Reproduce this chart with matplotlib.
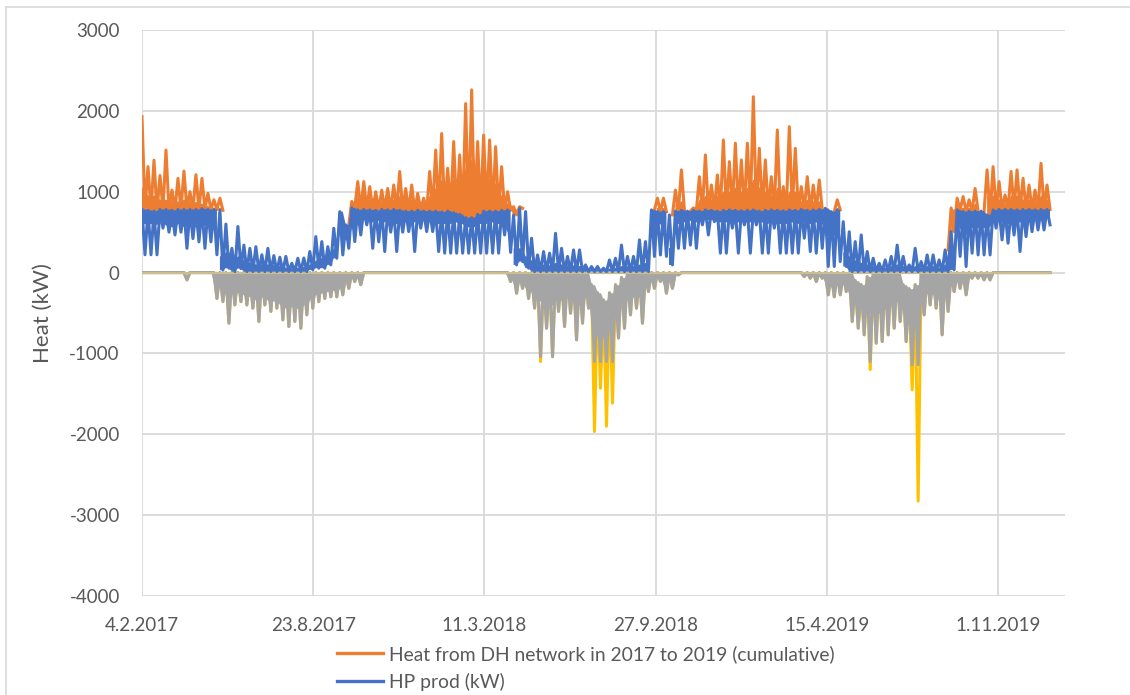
"""
plot.py
=======
Heat from the DH network vs heat pump production, weekly envelope
(peak / trough / dense core level per week) read off the Excel chart,
Feb 2017 - Dec 2019.
"""

import matplotlib
matplotlib.use("Agg")
import matplotlib.pyplot as plt
import matplotlib.dates as mdates
from matplotlib.lines import Line2D
import numpy as np
import pandas as pd

plt.rcParams["font.family"] = ["Lato", "DejaVu Sans"]
plt.rcParams["axes.unicode_minus"] = False

# ---- data (kW), one entry per week starting 4.2.2017 -----------------------
START = "2017-02-04"
N_WEEKS = 152

# HP prod: weekly peak, weekly trough, and the far edge of the dense band
# (lower edge in heating season, upper edge in summer)
hp_hi = [
    780, 770, 760, 780, 780, 770, 780, 780, 780, 780,
    790, 780, 780, 770, 600, 300, 570, 340, 300, 320,
    220, 300, 210, 190, 200, 115, 177, 180, 260, 445,
    383, 320, 548, 754, 590, 800, 775, 780, 775, 770,
    780, 775, 780, 770, 760, 760, 770, 760, 760, 760,
    750, 760, 740, 720, 680, 680, 720, 760, 760, 760,
    770, 775, 713, 795, 754, 425, 218, 260, 240, 486,
    300, 200, 280, 280, 95, 75, 75, 54, 156, 177,
    340, 200, 200, 404, 383, 775, 754, 754, 713, 760,
    770, 760, 770, 760, 775, 770, 760, 770, 775, 770,
    765, 770, 775, 760, 770, 775, 770, 765, 775, 770,
    780, 770, 775, 780, 795, 754, 775, 630, 505, 383,
    465, 260, 177, 115, 156, 200, 340, 200, 95, 300,
    136, 218, 218, 156, 280, 506, 775, 754, 760, 760,
    760, 713, 775, 780, 780, 780, 775, 780, 780, 775,
    780, 780,
]
hp_lo = [
    220, 220, 220, 550, 500, 465, 500, 300, 420, 380,
    300, 380, 220, 30, 54, 12, 50, 12, 12, 12,
    12, 12, 12, 12, 12, 12, 12, 12, 33, 54,
    54, 95, 177, 218, 300, 383, 465, 590, 300, 380,
    260, 500, 260, 500, 507, 260, 550, 507, 507, 260,
    240, 240, 240, 240, 240, 240, 240, 240, 240, 240,
    465, 250, 95, 136, 54, 12, 12, 12, 12, 12,
    12, 12, 12, 12, 12, 12, 12, 12, 12, 12,
    12, 12, 12, 12, 12, 200, 218, 200, 95, 300,
    300, 340, 300, 590, 465, 630, 240, 240, 550, 240,
    590, 240, 590, 240, 240, 550, 240, 240, 240, 240,
    425, 260, 240, 300, 75, 75, 136, 75, 12, 12,
    12, 12, 12, 12, 12, 12, 12, 12, 12, 12,
    12, 12, 12, 12, 12, 33, 200, 75, 240, 218,
    218, 218, 550, 404, 363, 465, 260, 445, 506, 527,
    527, 590,
]
hp_core = [
    600, 600, 590, 620, 580, 560, 600, 560, 570, 560,
    580, 590, 520, 200, 250, 150, 200, 150, 120, 100,
    100, 100, 90, 80, 60, 50, 60, 70, 100, 150,
    180, 200, 300, 450, 400, 550, 600, 650, 620, 640,
    620, 650, 600, 620, 640, 620, 640, 640, 640, 600,
    600, 600, 620, 600, 560, 560, 600, 600, 620, 600,
    620, 500, 300, 300, 200, 150, 100, 100, 90, 120,
    100, 90, 90, 80, 50, 40, 40, 30, 50, 60,
    80, 80, 80, 100, 120, 450, 600, 450, 300, 600,
    620, 640, 620, 640, 650, 650, 620, 620, 640, 620,
    640, 620, 640, 620, 600, 640, 600, 600, 620, 600,
    620, 600, 620, 600, 450, 450, 500, 250, 200, 150,
    120, 100, 80, 60, 60, 80, 100, 80, 50, 80,
    60, 80, 80, 60, 100, 300, 550, 450, 550, 550,
    550, 560, 650, 620, 600, 620, 620, 620, 640, 640,
    660, 680,
]

# Heat from DH network (cumulative, i.e. on top of HP): weekly peak and
# the top of its dense band.  None = nothing above the HP curve that week.
dh_hi = [
    1930, 1310, 1390, 1200, 1515, 1020, 1165, 1255, 1000, 1210,
    1165, 980, 900, 920, None, None, None, None, None, None,
    None, None, None, None, None, None, None, None, None, None,
    None, None, None, None, None, 880, 1125, 1125, 1063, 1000,
    1020, 1040, 1083, 1250, 1040, 1083, 980, 920, 1250, 1515,
    1720, 1290, 1620, 1455, 2090, 2260, 1620, 1700, 1640, 1557,
    1310, 1000, 815, 815, None, None, None, None, None, None,
    None, None, None, None, None, None, None, None, None, None,
    None, None, None, None, None, None, 920, 920, None, 1020,
    1270, None, 800, 1186, 1455, 1083, 1207, 1640, 1372, 1600,
    1393, 1600, 2175, 1537, 1393, 1186, 1763, 1063, 1805, 1537,
    1063, 1186, 1083, 1145, None, None, 900, None, None, None,
    None, None, None, None, None, None, None, None, None, None,
    None, None, None, None, None, 800, 920, 940, 900, 1040,
    None, 1270, 1310, 1125, 960, 1250, 1270, 1165, 1083, 1020,
    1351, 1083,
]
dh_core = [
    1050, 950, 950, 900, 900, 880, 880, 900, 870, 870,
    850, 820, 800, 800, None, None, None, None, None, None,
    None, None, None, None, None, None, None, None, None, None,
    None, None, None, None, None, 800, 950, 950, 900, 880,
    880, 900, 900, 950, 900, 900, 880, 860, 950, 1050,
    1150, 1050, 1150, 1100, 1300, 1400, 1150, 1200, 1150, 1100,
    950, 850, 780, 780, None, None, None, None, None, None,
    None, None, None, None, None, None, None, None, None, None,
    None, None, None, None, None, None, 800, 800, None, 850,
    880, None, 780, 900, 950, 900, 950, 1000, 1000, 1050,
    1000, 1050, 1150, 1050, 1000, 950, 1050, 900, 1000, 1000,
    880, 900, 880, 880, None, None, 800, None, None, None,
    None, None, None, None, None, None, None, None, None, None,
    None, None, None, None, None, 780, 800, 800, 800, 850,
    None, 950, 950, 900, 850, 950, 950, 900, 900, 880,
    950, 900,
]

# negative series (gray): weekly trough and bottom of its dense band
neg_lo = [
    0, 0, 0, 0, 0, 0, 0, -90, 0, 0,
    0, 0, -320, -358, -625, -400, -360, -400, -440, -605,
    -400, -480, -440, -585, -667, -605, -688, -523, -440, -360,
    -320, -300, -300, -275, -195, -110, -150, 0, 0, 0,
    0, 0, 0, 0, 0, 0, 0, 0, 0, 0,
    0, 0, 0, 0, 0, 0, 0, 0, 0, 0,
    0, -110, -255, -195, -320, -440, -1040, -688, -1040, -480,
    -667, -503, -832, -626, -440, -1100, -1100, -1100, -1100, -810,
    -688, -523, -440, -626, -235, -195, -110, -255, -195, -29,
    0, 0, 0, 0, 0, 0, 0, 0, 0, 0,
    0, 0, 0, 0, 0, 0, 0, 0, 0, 0,
    -50, -70, -110, -70, -275, -300, -275, -235, -605, -688,
    -770, -1100, -873, -853, -770, -688, -605, -853, -1140, -1140,
    -523, -400, -440, -770, -480, -235, -195, -275, -70, -70,
    -90, -90, 0, 0, 0, 0, 0, 0, 0, 0,
    0, 0,
]
neg_core = [
    0, 0, 0, 0, 0, 0, 0, 0, 0, 0,
    0, 0, -150, -200, -300, -250, -250, -280, -300, -350,
    -300, -350, -350, -400, -450, -420, -450, -400, -330, -270,
    -250, -230, -220, -200, -120, -60, -80, 0, 0, 0,
    0, 0, 0, 0, 0, 0, 0, 0, 0, 0,
    0, 0, 0, 0, 0, 0, 0, 0, 0, 0,
    0, -50, -150, -120, -200, -250, -350, -350, -400, -300,
    -350, -300, -400, -400, -300, -700, -800, -800, -700, -450,
    -400, -330, -300, -300, -150, -100, -50, -150, -100, 0,
    0, 0, 0, 0, 0, 0, 0, 0, 0, 0,
    0, 0, 0, 0, 0, 0, 0, 0, 0, 0,
    -20, -30, -50, -30, -150, -180, -150, -150, -300, -400,
    -450, -500, -500, -500, -450, -400, -350, -500, -700, -600,
    -350, -250, -280, -350, -250, -120, -100, -120, -30, -30,
    -40, -40, 0, 0, 0, 0, 0, 0, 0, 0,
    0, 0,
]
# weeks where the gray series does not come back up to 0
neg_top_weeks = [75, 76, 77, 78, 79, 80, 119, 120, 121, 127, 128, 129]
neg_top_vals = [-150, -250, -340, -250, -150, -60, -100, -150, -50, -150, -200, -150]

# yellow series: only differs from the gray one in these weeks
ylw_weeks = [66, 75, 76, 77, 78, 121, 128, 129]
ylw_lo = [-1100, -1965, -1430, -1900, -1615, -1200, -1450, -2826]

tick_dates = ["2017-02-04", "2017-08-23", "2018-03-11",
              "2018-09-27", "2019-04-15", "2019-11-01"]
tick_labels = ["4.2.2017", "23.8.2017", "11.3.2018",
               "27.9.2018", "15.4.2019", "1.11.2019"]
LABEL_DH = "Heat from DH network in 2017 to 2019 (cumulative)"
LABEL_HP = "HP prod (kW)"

# ---- colours ---------------------------------------------------------------
C_ORANGE = "#ED7D31"
C_BLUE = "#4472C4"
C_GRAY = "#A5A5A5"
C_YELLOW = "#FFC000"
C_ZERO = "#CBBD92"
C_GRID = "#D9D9D9"
C_TEXT = "#595959"
LW = 2.2


def arr(values):
    return np.array([np.nan if v is None else v for v in values], dtype=float)


def zigzag(first, second):
    """Interleave two weekly lists: `first` at week start, `second` mid-week."""
    weeks = mdates.date2num(pd.date_range(START, periods=N_WEEKS, freq="7D"))
    x = np.column_stack([weeks, weeks + 3.5]).ravel()
    y = np.column_stack([arr(first), arr(second)]).ravel()
    return x, y


def wk(values):
    """Weekly list stretched over both zigzag points of the week."""
    return np.repeat(arr(values), 2)


fig = plt.figure(figsize=(11.30, 6.95), dpi=100)
ax = fig.add_axes([142 / 1130, 1 - 596 / 695, 923 / 1130, 566 / 695])

neg_top = np.zeros(N_WEEKS)
neg_top[neg_top_weeks] = neg_top_vals
ylw = arr(neg_lo)
ylw[ylw_weeks] = ylw_lo

# negative side: yellow behind gray, gray band from 0 down to its core
x, y = zigzag(neg_top, ylw)
ax.plot(x, y, color=C_YELLOW, lw=LW, solid_joinstyle="round", zorder=2)
x, y = zigzag(neg_top, neg_lo)
ax.fill_between(x, wk(neg_core), wk(neg_top), color=C_GRAY, lw=0, zorder=3)
ax.plot(x, y, color=C_GRAY, lw=LW, solid_joinstyle="round", zorder=3)
ax.plot([x[0], x[-1]], [0, 0], color=C_ZERO, lw=1.6, zorder=4)

# DH (cumulative): band from the HP top up to its core, spikes above
x, y = zigzag(dh_hi, hp_hi)
ax.fill_between(x, wk(hp_hi), wk(dh_core), color=C_ORANGE, lw=0, zorder=5)
ax.plot(x, y, color=C_ORANGE, lw=LW, solid_joinstyle="round", zorder=5)

# HP prod: band near the top in heating season, near 0 in summer
x, y = zigzag(hp_hi, hp_lo)
core = wk(hp_core)
heating = core >= 400
ax.fill_between(x, core, wk(hp_hi), where=heating, color=C_BLUE, lw=0, zorder=6)
ax.fill_between(x, wk(hp_lo), core, where=~heating, color=C_BLUE, lw=0, zorder=6)
ax.plot(x, y, color=C_BLUE, lw=LW, solid_joinstyle="round", zorder=6)

t0 = mdates.date2num(pd.Timestamp(START))
ax.set_xlim(t0, t0 + 1078)
ax.set_ylim(-4000, 3000)
ax.set_yticks(np.arange(-4000, 3001, 1000))
ax.set_xticks(mdates.date2num(pd.to_datetime(tick_dates)))
ax.set_xticklabels(tick_labels)
ax.grid(True, color=C_GRID, lw=1.3)
ax.set_axisbelow(True)
for s in ax.spines.values():
    s.set_visible(False)
ax.tick_params(length=0, labelsize=13.5, labelcolor=C_TEXT)
ax.tick_params(axis="y", pad=16)
ax.tick_params(axis="x", pad=15)
ax.set_ylabel("Heat (kW)", fontsize=16, color=C_TEXT)
ax.yaxis.set_label_coords(-0.097, 0.5)

handles = [Line2D([], [], color=C_ORANGE, lw=2.4), Line2D([], [], color=C_BLUE, lw=2.4)]
fig.legend(handles, [LABEL_DH, LABEL_HP], loc="center left",
           bbox_to_anchor=(337 / 1130, 1 - 668 / 695), frameon=False,
           fontsize=13.9, labelcolor=C_TEXT, handlelength=2.4, handletextpad=0.3,
           borderpad=0, borderaxespad=0, labelspacing=0.5)

# chart-area border of the screenshot
fig.add_artist(Line2D([6 / 1130, 6 / 1130], [0, 1 - 7 / 695], color=C_GRID, lw=1.2))
fig.add_artist(Line2D([6 / 1130, 1], [1 - 7 / 695, 1 - 7 / 695], color=C_GRID, lw=1.2))

fig.savefig("out.png", dpi=100)
